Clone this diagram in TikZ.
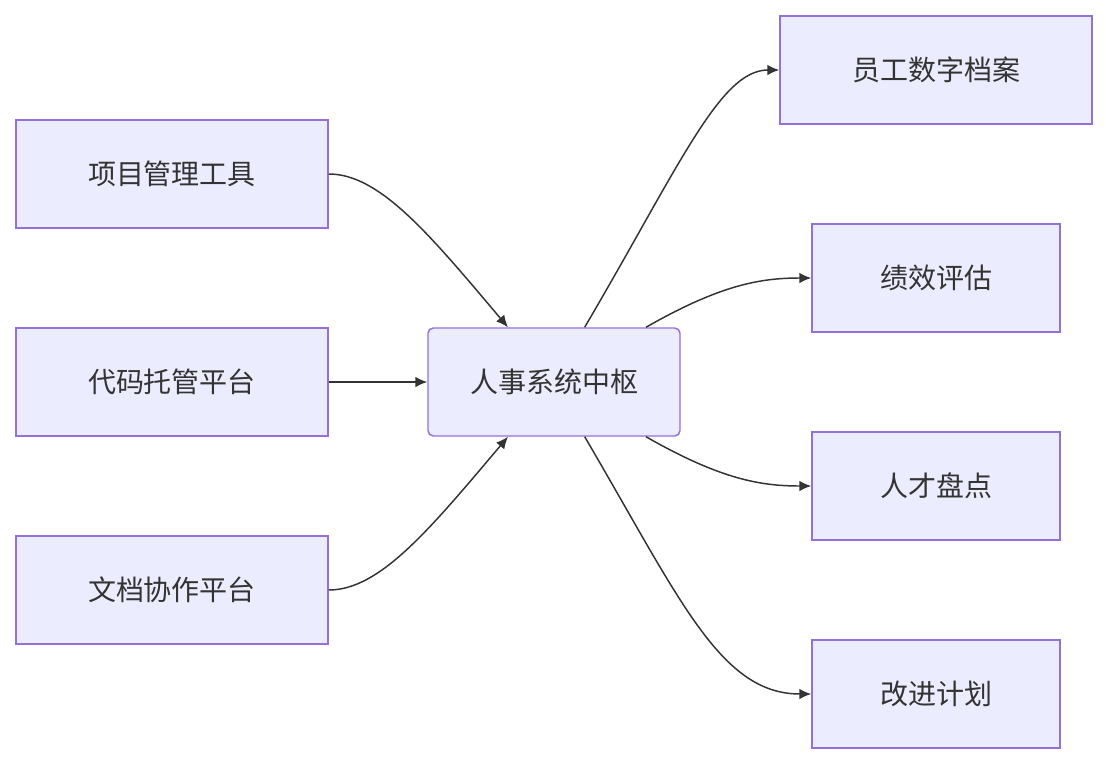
\documentclass[tikz,border=0pt]{standalone}
\usepackage{fontspec}
\setmainfont{Noto Sans CJK SC}
\usetikzlibrary{arrows.meta}
\definecolor{nf}{HTML}{ECECFF}
\definecolor{ns}{HTML}{9370DB}
\definecolor{tx}{HTML}{333333}
\begin{document}
\begin{tikzpicture}[x=0.75pt,y=-0.75pt,
 box/.style={draw=ns,fill=nf,line width=1.1pt,minimum height=81pt,text=tx,font=\fontsize{21}{25}\selectfont,inner sep=0pt},
 edge/.style={draw=tx,line width=1.1pt,-{Latex[length=9pt,width=8pt]}}]
\useasboundingbox (0,0) rectangle (1108,764);
\node[box,minimum width=234pt] (a) at (172,174) {项目管理工具};
\node[box,minimum width=234pt] (b) at (172,382) {代码托管平台};
\node[box,minimum width=234pt] (c) at (172,590) {文档协作平台};
\node[box,minimum width=189pt,rounded corners=4pt] (h) at (554,382) {人事系统中枢};
\node[box,minimum width=234pt] (r1) at (936,70) {员工数字档案};
\node[box,minimum width=186pt] (r2) at (936,278) {绩效评估};
\node[box,minimum width=186pt] (r3) at (936,486) {人才盘点};
\node[box,minimum width=186pt] (r4) at (936,694) {改进计划};
\draw[edge] (a.east) .. controls (380,174) and (430,235) .. ([xshift=-34.5pt]h.north);
\draw[edge] (b.east) -- (h.west);
\draw[edge] (c.east) .. controls (380,590) and (430,529) .. ([xshift=-34.5pt]h.south);
\draw[edge] ([xshift=23pt]h.north) .. controls (680,165) and (720,70) .. (r1.west);
\draw[edge] ([xshift=69pt]h.north) .. controls (720,285) and (760,278) .. (r2.west);
\draw[edge] ([xshift=69pt]h.south) .. controls (720,479) and (760,486) .. (r3.west);
\draw[edge] ([xshift=23pt]h.south) .. controls (680,599) and (720,694) .. (r4.west);
\end{tikzpicture}
\end{document}
